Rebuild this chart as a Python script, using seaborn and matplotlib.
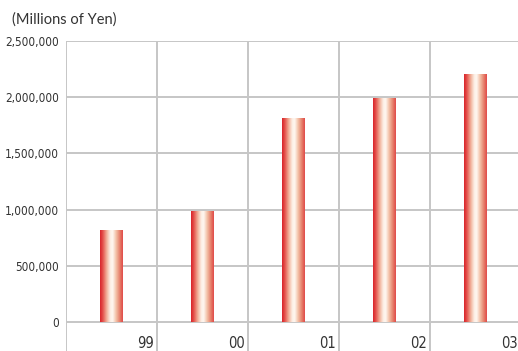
import numpy as np
import pandas as pd
import matplotlib
matplotlib.use("Agg")
import matplotlib.pyplot as plt
from matplotlib.colors import LinearSegmentedColormap
import seaborn as sns

# Fiscal years and net sales (millions of yen)
years = ["99", "00", "01", "02", "03"]
sales = [820000, 990000, 1817000, 1995000, 2206000]
y_ticks = [0, 500000, 1000000, 1500000, 2000000, 2500000]

df = pd.DataFrame({"year": years, "sales": sales})

sns.set_theme(style="white")
plt.rcParams["font.family"] = ["DejaVu Sans"]
plt.rcParams["font.stretch"] = "condensed"

W, H, DPI = 518, 351, 100
fig = plt.figure(figsize=(W / DPI, H / DPI), dpi=DPI)
ax = fig.add_axes([66 / W, 0, 455 / W, 1 - 41 / H])

sns.barplot(data=df, x="year", y="sales", ax=ax, width=0.25,
            color="#d9252b", linewidth=0)

Y_MIN, Y_MAX = -258000, 2500000

grid_col = "#c6c6c6"
for v in y_ticks:
    ax.axhline(v, color=grid_col, lw=1.4, zorder=1)
for i in range(len(years)):
    ax.axvline(i - 0.5, color=grid_col, lw=1.4, zorder=1)

for s in ax.spines.values():
    s.set_visible(False)

# Cylindrical red-white-red shading applied to each bar
cmap = LinearSegmentedColormap.from_list("tube", [
    (0.00, "#d8222a"), (0.12, "#e4504a"), (0.30, "#f2b39c"),
    (0.45, "#fdf0e6"), (0.55, "#fff8f2"), (0.70, "#f3c2a8"),
    (0.88, "#e57a66"), (1.00, "#e04848")])
grad = np.linspace(0, 1, 256).reshape(1, -1)
for p in ax.patches:
    x0, w, h = p.get_x(), p.get_width(), p.get_height()
    p.set_facecolor("none")
    im = ax.imshow(grad, cmap=cmap, aspect="auto", extent=(x0, x0 + w, 0, h),
                   zorder=3, interpolation="bicubic")
    im.set_clip_path(p)
ax.set_xlim(-0.5, len(years) - 0.5)
ax.set_ylim(Y_MIN, Y_MAX)

ax.set_yticks(y_ticks)
ax.set_yticklabels([f"{v:,}" for v in y_ticks])
ax.tick_params(axis="y", length=0, pad=5, labelsize=8.5, labelcolor="#333333")
ax.set_xticks([])
ax.set_xlabel("")
ax.set_ylabel("")

for i, lab in enumerate(years):
    ax.text(i + 0.37, -192000, lab, ha="center", va="center",
            fontsize=10.5, color="#333333")

fig.text(12 / W, 1 - 20 / H, "(Millions of Yen)", ha="left", va="center",
         fontsize=10.5, color="#333333", family=["Lato", "DejaVu Sans"],
         fontstretch="normal")

fig.savefig("out.png", dpi=DPI)
